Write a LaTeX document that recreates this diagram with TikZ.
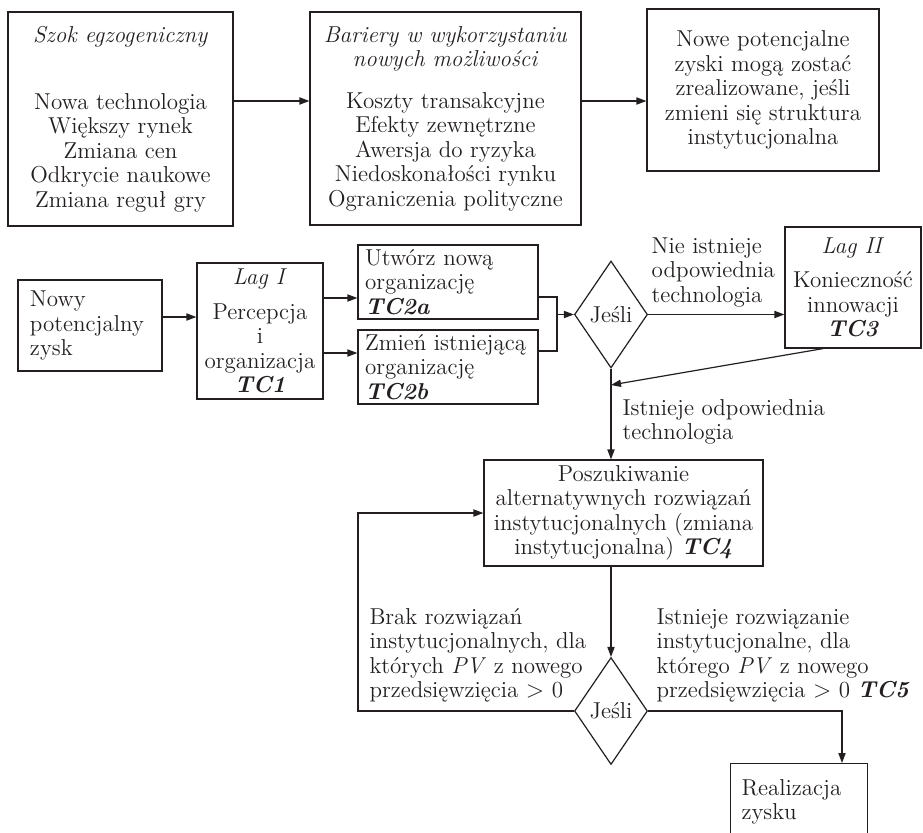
\documentclass[tikz,border=0pt]{standalone}
\usepackage{xcolor}
\usepackage{tikz}
\usetikzlibrary{positioning, arrows.meta, calc, shapes.geometric}
\definecolor{ink}{HTML}{231F20}

\begin{document}
\begin{tikzpicture}[
    x=0.5pt, y=-0.5pt,
    flowbox/.style={
        rectangle,
        draw=ink,
        line width=0.6pt,
        text=ink,
        align=center,
        inner sep=0pt,
        font=\fontsize{11.5}{12.2}\selectfont
    },
    leftbox/.style={flowbox, align=left},
    decision/.style={flowbox, diamond, minimum width=36.5pt, minimum height=53.5pt},
    note/.style={text=ink, align=left, inner sep=0pt, font=\fontsize{11.5}{12.2}\selectfont},
    flowline/.style={line width=0.6pt, draw=ink},
    flowarrow/.style={-{Triangle[length=5pt, width=3.6pt]}, line width=0.6pt, draw=ink}
]
\useasboundingbox (0,0) rectangle (923,832);

% top row
\node[flowbox, minimum width=112.5pt, minimum height=107pt] (shock) at (120.5,119) {
    \textit{Szok egzogeniczny}\\[21.3pt]
    Nowa technologia\\
    Większy rynek\\
    Zmiana cen\\
    Odkrycie naukowe\\
    Zmiana reguł gry
};

\node[flowbox, minimum width=135.5pt, minimum height=106.5pt] (barriers) at (445.5,118.5) {
    \textit{Bariery w wykorzystaniu}\\
    \textit{nowych możliwości}\\[8.8pt]
    Koszty transakcyjne\\
    Efekty zewnętrzne\\
    Awersja do ryzyka\\
    Niedoskonałości rynku\\
    Ograniczenia polityczne
};

\node[flowbox, minimum width=116pt, minimum height=81pt] (outcome) at (763,90) {
    Nowe potencjalne\\
    zyski mogą zostać\\
    zrealizowane, jeśli\\
    zmieni się struktura\\
    instytucjonalna
};

\coordinate (toprow) at (0,101);
\draw[flowarrow] (shock.east |- toprow) -- (barriers.west |- toprow);
\draw[flowarrow] (barriers.east |- toprow) -- (outcome.west |- toprow);

% second row
\node[leftbox, text width=60pt, inner xsep=6pt, minimum height=45.5pt] (gain) at (90,325.5) {
    Nowy\\
    potencjalny\\
    zysk
};

\node[flowbox, minimum width=63pt, minimum height=68pt] (lagone) at (260,331) {
    \textit{Lag I}\\[5pt]
    Percepcja\\
    i\\
    organizacja\\
    \textbf{\textit{TC1}}
};

\node[leftbox, text width=83pt, inner xsep=3.5pt, minimum height=37pt] (neworg) at (448,282) {
    Utwórz nową\\
    organizację\\
    \textbf{\textit{TC2a}}
};

\node[leftbox, text width=83pt, inner xsep=3.5pt, minimum height=37pt] (changeorg) at (448,367) {
    Zmień istniejącą\\
    organizację\\
    \textbf{\textit{TC2b}}
};

\node[decision] (ifone) at (611,314.5) {Jeśli};

\node[flowbox, minimum width=68pt, minimum height=60.5pt] (lagtwo) at (853,287.5) {
    \textit{Lag II}\\[5pt]
    Konieczność\\
    innowacji\\
    \textbf{\textit{TC3}}
};

\draw[flowarrow] (gain.east |- 0,317) -- (lagone.west |- 0,317);
\draw[flowarrow] (lagone.east |- 0,298) -- (neworg.west |- 0,298);
\draw[flowarrow] (lagone.east |- 0,353) -- (changeorg.west |- 0,353);

\coordinate (join) at (557,314.5);
\draw[flowline] (neworg.east |- 0,297) -| (join);
\draw[flowline] (changeorg.east |- 0,351) -| (join);
\draw[flowarrow] (join) -- (ifone.west);

\draw[flowarrow] (ifone.east)
    node[note, anchor=south west, inner xsep=1.5pt, inner ysep=3.5pt] (nolabel) {
        Nie istnieje\\
        odpowiednia\\
        technologia
    } -- (ifone.east -| lagtwo.west);

% search and second decision
\node[flowbox, minimum width=139.5pt, minimum height=53pt] (search) at (623.5,513) {
    Poszukiwanie\\
    alternatywnych rozwiązań\\
    instytucjonalnych (zmiana\\
    instytucjonalna) \textbf{\textit{TC4}}
};

\coordinate (merge) at (611,385);
\draw[flowarrow] ([xshift=-15pt]lagtwo.south) -- (merge);

\draw[flowarrow] (ifone.south) -- (ifone.south |- search.north)
    node[note, pos=0.586, anchor=west, inner xsep=5.5pt] (yeslabel) {
        Istnieje odpowiednia\\
        technologia
    };

\node[decision] (iftwo) at (611,711) {Jeśli};

\node[leftbox, anchor=north, text width=57.5pt, inner xsep=5.5pt, inner ysep=8pt] (realize) at (799,763) {
    Realizacja\\
    zysku
};

\draw[flowarrow] (iftwo.north |- search.south) -- (iftwo.north);

\draw[flowarrow] (iftwo.west) -- ++(-108pt,0)
    node[note, pos=1, anchor=south west, inner xsep=5.5pt, inner ysep=4pt] (nosolution) {
        Brak rozwiązań\\
        instytucjonalnych, dla\\
        których \textit{PV} z nowego\\
        przedsięwzięcia $>$ 0
    } |- (search.west);

\draw[flowarrow] (iftwo.east)
    node[note, anchor=south west, inner xsep=4pt, inner ysep=4pt] (solution) {
        Istnieje rozwiązanie\\
        instytucjonalne, dla\\
        którego \textit{PV} z nowego\\
        przedsięwzięcia $>$ 0 \textbf{\textit{TC5}}
    } -| ([xshift=21.5pt]realize.north);

\end{tikzpicture}
\end{document}
